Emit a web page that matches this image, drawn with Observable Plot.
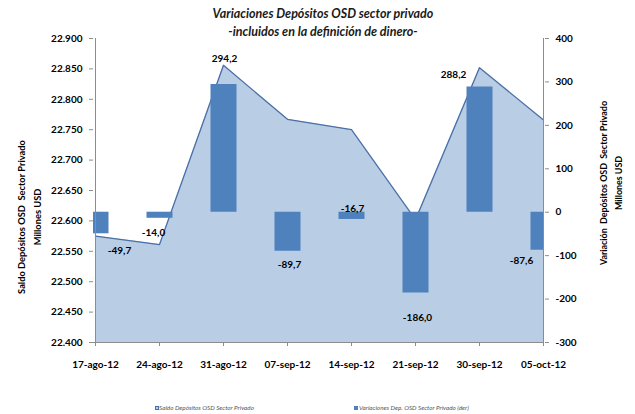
<!DOCTYPE html>
<html><head><meta charset="utf-8">
<script src="https://cdn.jsdelivr.net/npm/d3@7"></script>
<script src="https://cdn.jsdelivr.net/npm/@observablehq/plot@0.6"></script>
<style>
body{margin:0;background:#fff;}
#wrap{position:relative;width:635px;height:414px;font-family:Lato,"DejaVu Sans",sans-serif;color:#000;}
#wrap svg{position:absolute;left:0;top:0;}
.t{position:absolute;white-space:nowrap;}
.title{left:0;width:646px;text-align:center;font-weight:bold;font-style:italic;font-size:12.5px;color:#1a1a1a;}
.axt{text-align:center;font-weight:bold;font-size:9.3px;line-height:16px;transform:rotate(-90deg);}
.leg{font-style:italic;font-size:6.3px;color:#555;top:404px;}
.sw{position:absolute;width:4px;height:4px;top:406px;}
</style></head><body><div id="wrap"></div>
<script>
const fechas = ["17-ago-12","24-ago-12","31-ago-12","07-sep-12","14-sep-12","21-sep-12","30-sep-12","05-oct-12"];
const saldo = [22575, 22561, 22856, 22767, 22750, 22602, 22852, 22766];
const variacion = [-49.7, -14.0, 294.2, -89.7, -16.7, -186.0, 288.2, -87.6];
const ticksIzq = d3.range(22400, 22901, 50);
const ticksDer = d3.range(-300, 401, 100);
// label nudges (px) for the hand-placed data labels
const etiquetaDx = [24, -6, 1, 2, 1, 2, -26, -22];
const etiquetaDy = [17, 15, -26, 14, -11, 25, -12, 11];

const loc = d3.formatLocale({decimal: ",", thousands: ".", grouping: [3], currency: ["", ""], minus: "-"});
const fmtN = loc.format(",d");
const fmtD = loc.format(",.1f");
const y0 = ticksIzq[0], y1 = ticksIzq[ticksIzq.length - 1];
const r0 = ticksDer[0], r1 = ticksDer[ticksDer.length - 1];
const toIzq = v => y0 + (v - r0) / (r1 - r0) * (y1 - y0);
const toDer = t => r0 + (t - y0) / (y1 - y0) * (r1 - r0);

const datos = fechas.map((f, i) => ({fecha: f, saldo: saldo[i], variacion: variacion[i]}));

const axisGray = "#8c8c8c";
const etiquetas = datos.map((d, i) => Plot.text([d], {
  x: "fecha", y: e => toIzq(e.variacion), text: e => fmtD(e.variacion),
  dx: etiquetaDx[i], dy: etiquetaDy[i], fontWeight: "bold", fontSize: 10, fill: "#000"
}));

const chart = Plot.plot({
  width: 635, height: 414,
  marginLeft: 93, marginRight: 91, marginTop: 38, marginBottom: 72,
  x: {type: "point", domain: fechas, padding: 0},
  y: {domain: [y0, y1]},
  style: {fontFamily: "Lato, 'DejaVu Sans', sans-serif", fontSize: "10px", color: "#000", background: "transparent"},
  marks: [
    Plot.areaY(datos, {x: "fecha", y1: () => y0, y2: "saldo", fill: "#b9cde5"}),
    Plot.lineY(datos, {x: "fecha", y: "saldo", stroke: "#4a6fa6", strokeWidth: 1.3}),
    Plot.ruleX(datos, {x: "fecha", y1: () => toIzq(0), y2: d => toIzq(d.variacion), stroke: "#4f81bd", strokeWidth: 26, clip: true}),
    Plot.ruleX([fechas[0], fechas[fechas.length - 1]], {stroke: axisGray}),
    Plot.ruleY([y0], {stroke: axisGray}),
    Plot.axisY({ticks: ticksIzq, tickFormat: fmtN, tickSize: 4, tickPadding: 7, fontWeight: "bold", stroke: axisGray, fill: "#000", label: null}),
    Plot.axisY(ticksDer.map(toIzq), {anchor: "right", tickFormat: t => fmtN(Math.round(toDer(t))), tickSize: 4, tickPadding: 7, fontWeight: "bold", stroke: axisGray, fill: "#000", label: null}),
    Plot.axisX({tickSize: 4, tickPadding: 14, fontWeight: "bold", stroke: axisGray, fill: "#000", label: null}),
    ...etiquetas
  ]
});

const wrap = document.getElementById("wrap");
wrap.appendChild(chart);

function addDiv(cls, html, css) {
  const d = document.createElement("div");
  d.className = "t " + cls;
  d.innerHTML = html;
  Object.assign(d.style, css);
  wrap.appendChild(d);
  return d;
}
addDiv("title", "Variaciones Depósitos OSD sector privado", {top: "6px"});
addDiv("title", "-incluidos en la definición de dinero-", {top: "24px"});
addDiv("axt", "Saldo Depósitos OSD&nbsp; Sector Privado<br>Millones USD", {left: "-90px", top: "201px", width: "240px", height: "32px"});
addDiv("axt", "Variación&nbsp; Depósitos OSD&nbsp; Sector Privado<br>Millones USD", {left: "491px", top: "168px", width: "240px", height: "30px", fontSize: "8.9px", lineHeight: "15px"});
const sw1 = document.createElement("div"); sw1.className = "sw";
Object.assign(sw1.style, {left: "155px", background: "#b9cde5", border: "0.5px solid #4a6fa6", boxSizing: "border-box"});
wrap.appendChild(sw1);
addDiv("leg", "Saldo Depósitos OSD Sector Privado", {left: "159px"});
const sw2 = document.createElement("div"); sw2.className = "sw";
Object.assign(sw2.style, {left: "354px", background: "#4f81bd"});
wrap.appendChild(sw2);
addDiv("leg", "Variaciones Dep. OSD Sector Privado (der)", {left: "359px"});
</script>
</body></html>
